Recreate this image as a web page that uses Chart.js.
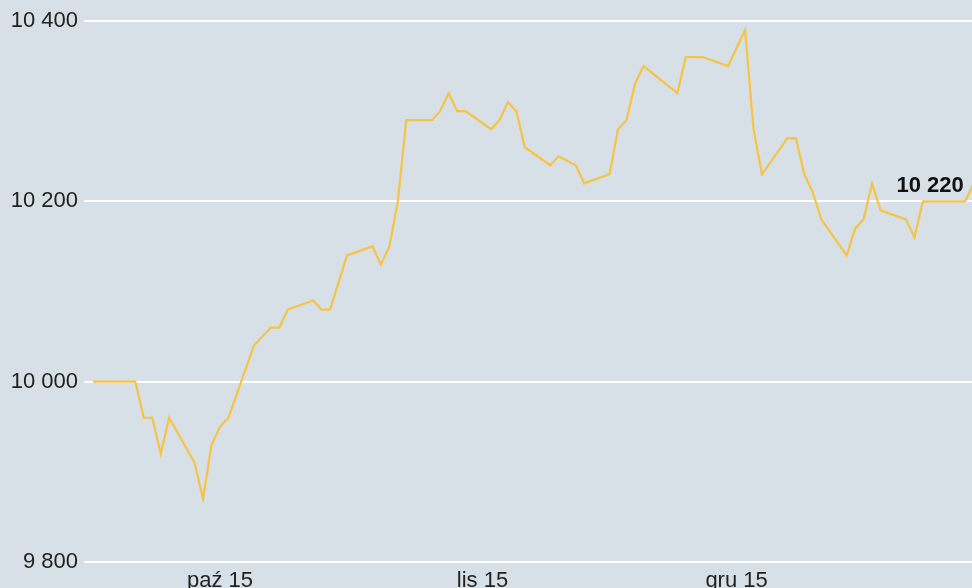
<!DOCTYPE html>
<html>
<head>
<meta charset="utf-8">
<script src="https://cdn.jsdelivr.net/npm/chart.js@4/dist/chart.umd.min.js"></script>
<style>
  html, body { margin: 0; padding: 0; background: #d6e0e6; }
  #wrap { width: 972px; height: 588px; }
</style>
</head>
<body>
<div id="wrap"><canvas id="chart"></canvas></div>
<script>
// Days counted from 1 Oct 2015 (day 0)
const days = [-15, -10, -9, -8, -7, -6, -3, -2, -1, 0, 1, 4, 6, 7, 8, 11, 12, 13, 15, 18,
  19, 20, 21, 22, 25, 26, 27, 28, 29, 32, 33, 34, 35, 36, 39, 40, 42, 43, 46, 47,
  48, 49, 50, 54, 55, 57, 60, 62, 63, 64, 67, 68, 69, 70, 71, 74, 75, 76, 77, 78,
  81, 82, 83, 88, 89];
const values = [10000, 10000, 9960, 9960, 9920, 9960, 9910, 9870, 9930, 9950, 9960, 10040, 10060, 10060, 10080, 10090, 10080, 10080, 10140, 10150,
  10130, 10150, 10200, 10290, 10290, 10300, 10320, 10300, 10300, 10280, 10290, 10310, 10300, 10260, 10240, 10250, 10240, 10220, 10230, 10280,
  10290, 10330, 10350, 10320, 10360, 10360, 10350, 10390, 10280, 10230, 10270, 10270, 10230, 10210, 10180, 10140, 10170, 10180, 10220, 10190,
  10180, 10160, 10200, 10200, 10220];

const monthTicks = [0, 31, 61];
const monthLabels = ["paź 15", "lis 15", "gru 15"];
const yTicks = [9800, 10000, 10200, 10400];

const fmt = v => String(v).replace(/\B(?=(\d{3})+(?!\d))/g, " ");

// Last value label next to the end of the line
const lastValueLabel = {
  id: "lastValueLabel",
  afterDatasetsDraw(chart) {
    const meta = chart.getDatasetMeta(0);
    const pt = meta.data[meta.data.length - 1];
    const ctx = chart.ctx;
    ctx.save();
    ctx.font = "bold 22px 'Liberation Sans', Arial, sans-serif";
    ctx.fillStyle = "#111";
    ctx.textAlign = "right";
    ctx.textBaseline = "middle";
    ctx.fillText(fmt(values[values.length - 1]), pt.x - 10, pt.y + 3);
    ctx.restore();
  }
};

new Chart(document.getElementById("chart"), {
  type: "line",
  data: {
    datasets: [{
      data: days.map((d, i) => ({ x: d, y: values[i] })),
      borderColor: "#f6c445",
      borderWidth: 2.2,
      pointRadius: 0,
      tension: 0
    }]
  },
  options: {
    responsive: true,
    maintainAspectRatio: false,
    animation: false,
    layout: { padding: { top: 21, right: 0, left: 0, bottom: 0 } },
    scales: {
      x: {
        type: "linear",
        min: -16.06,
        max: 88.8,
        afterBuildTicks: s => { s.ticks = monthTicks.map(v => ({ value: v })); },
        afterFit: s => { s.height = 26; },
        grid: { display: false },
        border: { display: false },
        ticks: {
          padding: -2,
          maxRotation: 0,
          color: "#222",
          font: { size: 22, family: "'Liberation Sans', Arial, sans-serif" },
          callback: v => monthLabels[monthTicks.indexOf(v)]
        }
      },
      y: {
        min: 9800,
        max: 10400,
        afterBuildTicks: s => { s.ticks = yTicks.map(v => ({ value: v })); },
        afterFit: s => { s.width = 84; },
        grid: { color: "#ffffff", lineWidth: 2, drawTicks: false },
        border: { display: false },
        ticks: {
          padding: 6,
          color: "#222",
          font: { size: 22, family: "'Liberation Sans', Arial, sans-serif" },
          callback: v => fmt(v)
        }
      }
    },
    plugins: {
      legend: { display: false },
      tooltip: { enabled: false }
    }
  },
  plugins: [lastValueLabel]
});
</script>
</body>
</html>
